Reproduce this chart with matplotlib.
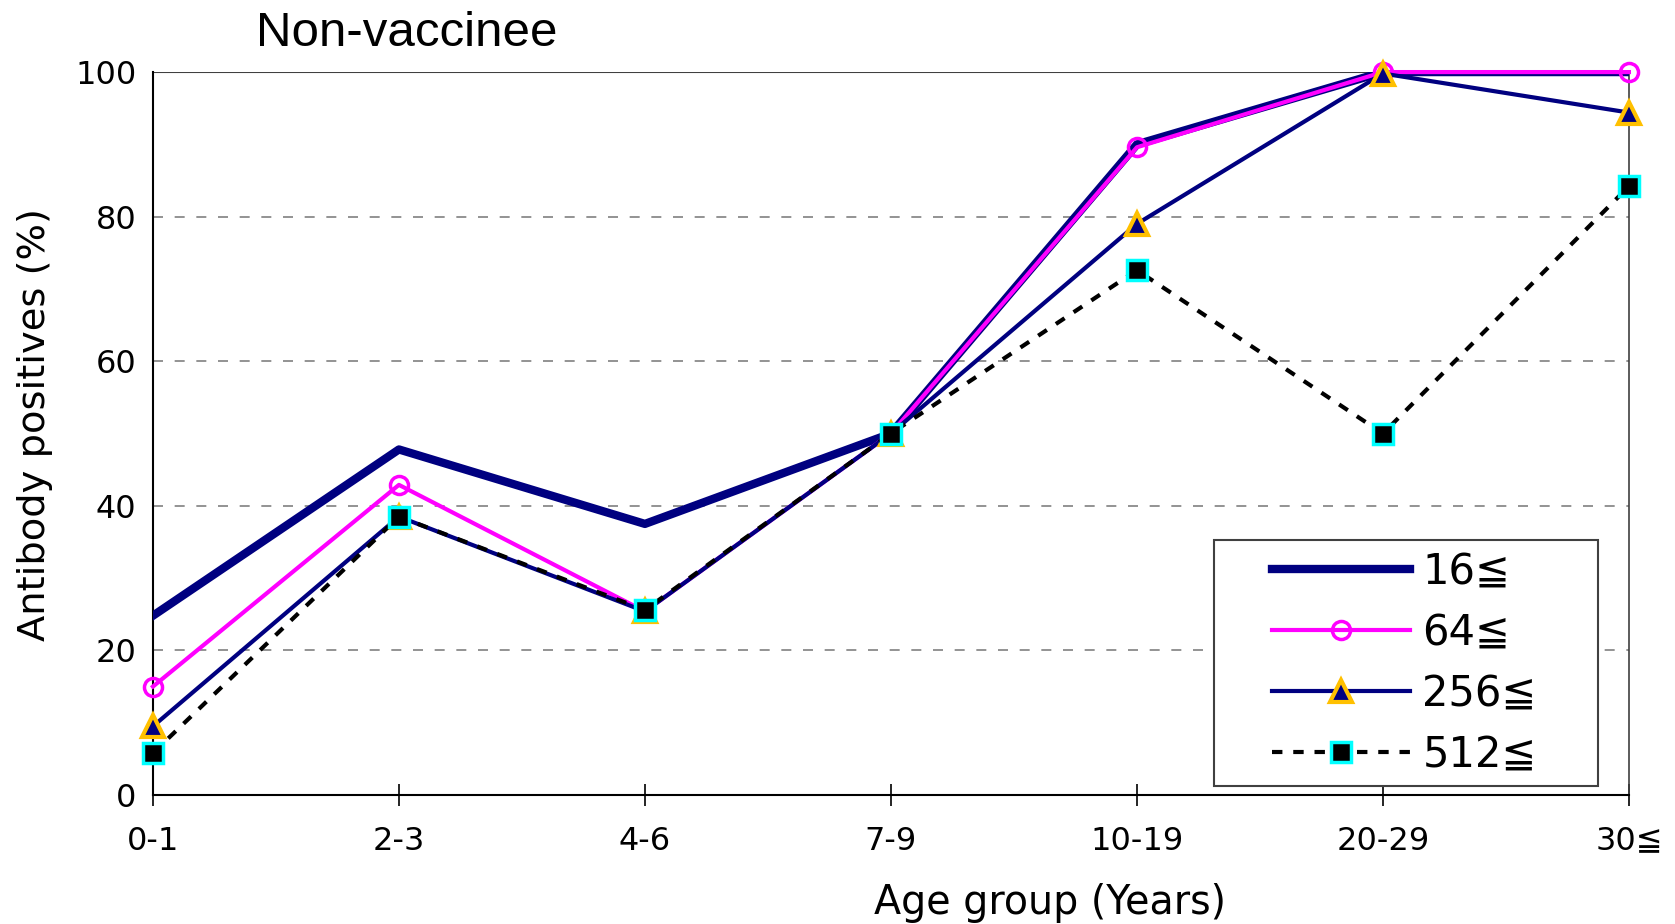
import matplotlib
matplotlib.use("Agg")
import matplotlib.pyplot as plt
from matplotlib.patches import Rectangle

age_groups = ["0-1", "2-3", "4-6", "7-9", "10-19", "20-29", "30≦"]
pos_16 = [24.8, 47.8, 37.5, 50.0, 90.0, 100.0, 100.0]
pos_64 = [15.0, 42.9, 25.4, 50.0, 89.6, 100.0, 100.0]
pos_256 = [9.5, 38.5, 25.4, 50.0, 79.0, 99.8, 94.4]
pos_512 = [5.8, 38.5, 25.6, 50.0, 72.6, 50.0, 84.2]

plt.rcParams['font.family'] = ['DejaVu Sans']

fig = plt.figure(figsize=(16.75, 9.24), dpi=100)
ax = fig.add_axes([0.0913, 0.1396, 0.8812, 0.7824])

x = list(range(len(age_groups)))

# grid
for yv in [20, 40, 60, 80]:
    ax.axhline(yv, color='#808080', lw=1.2, ls=(0, (6, 7)), zorder=1)
ax.axhline(100, color='#404040', lw=1.5, zorder=1)

ax.plot(x, pos_16, color='#000080', lw=6, label='16≦', zorder=3)
ax.plot(x, pos_64, color='#FF00FF', lw=3, marker='o', ms=13, mfc='none',
        mec='#FF00FF', mew=2.5, label='64≦', zorder=4, clip_on=False)
ax.plot(x, pos_256, color='#000080', lw=3, marker='^', ms=16, mfc='#000080',
        mec='#FFC000', mew=3, label='256≦', zorder=5, clip_on=False)
ax.plot(x, pos_512, color='black', lw=3, ls=(0, (2.5, 2.6)), marker='s', ms=14,
        mfc='black', mec='#00FFFF', mew=2.5, label='512≦', zorder=6, clip_on=False)

ax.set_xlim(0, 6)
ax.set_ylim(0, 100)
ax.set_xticks(x)
ax.set_xticklabels(age_groups, fontsize=23)
ax.set_yticks([0, 20, 40, 60, 80, 100])
ax.set_yticklabels(['0', '20', '40', '60', '80', '100'], fontsize=23)
ax.tick_params(axis='x', direction='inout', length=16, width=1.2, pad=14)
ax.tick_params(axis='y', length=0, pad=12)

for side in ['left', 'bottom']:
    ax.spines[side].set_linewidth(1.5)
ax.spines['top'].set_visible(False)
ax.spines['right'].set_linewidth(1.2)
ax.spines['right'].set_color('#404040')

ax.set_xlabel('Age group (Years)', fontsize=28.5, labelpad=19)
ax.xaxis.label.set_x(0.608)
ax.set_ylabel('Antibody positives (%)', fontsize=27.6, labelpad=16)
ax.yaxis.label.set_y(0.513)

fig.text(0.153, 0.950, 'Non-vaccinee', fontsize=35.5, family='Liberation Sans',
         ha='left', va='baseline')

# legend box drawn separately so padding can differ horizontally/vertically
box = Rectangle((0.719, 0.0124), 0.26, 0.3403, transform=ax.transAxes,
                facecolor='white', edgecolor='#404040', lw=1.5, zorder=7)
ax.add_patch(box)
leg = ax.legend(loc='center', bbox_to_anchor=(0.848, 0.1826), fontsize=30,
                frameon=False, handlelength=3.3, handletextpad=0.3,
                borderpad=0.2, labelspacing=0.45, borderaxespad=0.0)
leg.set_zorder(8)

fig.savefig('out.png', dpi=100, facecolor='white')
